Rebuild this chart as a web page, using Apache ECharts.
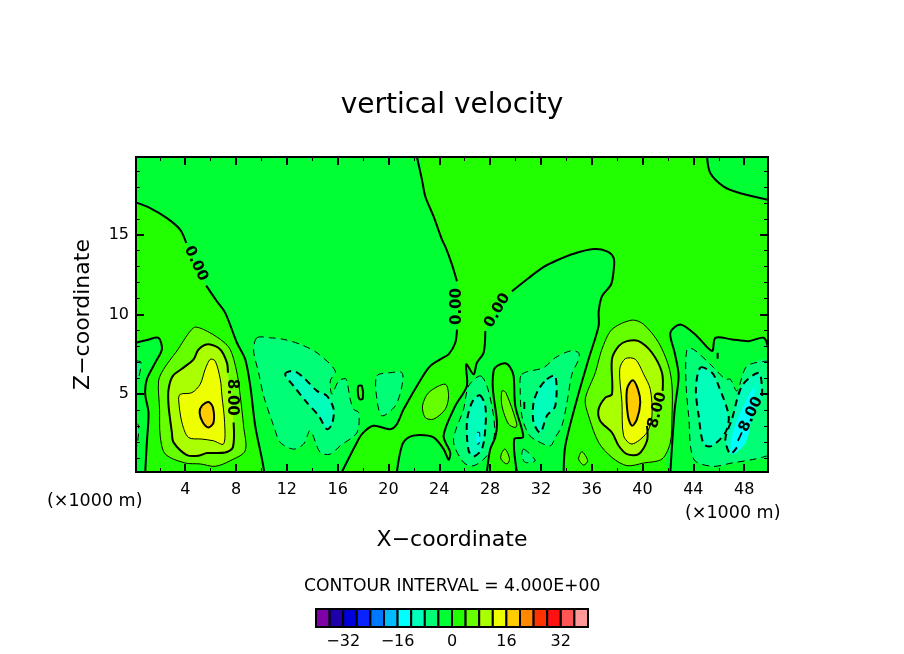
<!DOCTYPE html>
<html><head><meta charset="utf-8">
<style>html,body{margin:0;padding:0;background:#fff}#c{width:904px;height:654px}</style>
<script src="https://cdn.jsdelivr.net/npm/echarts@6/dist/echarts.min.js"></script>
</head><body><div id="c"></div>
<script>
// ---- scale values ----
const xRange = [0.125, 49.875];
const zRange = [0.125, 19.875];
const xMajor = [4,8,12,16,20,24,28,32,36,40,44,48];
const xMinor = [2,6,10,14,18,22,26,30,34,38,42,46];
const zMajor = [5,10,15];
const zMinor = [1,2,3,4,6,7,8,9,11,12,13,14,16,17,18,19];
const bandLows = [-40,-36,-32,-28,-24,-20,-16,-12,-8,-4,0,4,8,12,16,20,24,28,32,36];
const bandColors = ['#8000a8','#1e00aa','#0000dd','#0a22ff','#0077ff','#00bbff','#00ffff','#00ffbb','#00ff77','#00ff33','#22ff00','#66ff00','#aaff00','#eeff00','#ffcc00','#ff8800','#ff3300','#ff1111','#ff5555','#ff9999'];
const barTicks = [-32,-16,0,16,32];

// ---- contour values: [x (km), z] ----
const zeroLeftA = [[0.125,17.02],[1.24,16.67],[2.56,16.04],[3.61,15.31],[4.08,14.48]];
const zeroLeftB = [[5.65,11.81],[6.49,10.83],[7.15,10.1],[8.07,8.23],[8.72,7.19],[9.12,5.52],[9.51,3.02],[10.04,0.94],[10.22,0.125]];
const zeroMidA = [[16.33,0.125],[17.38,1.77],[17.91,2.5],[18.82,3.02],[20.14,2.81],[20.66,3.13],[21.19,4.06],[22.63,6.04],[23.29,6.77],[24.07,7.19],[24.73,7.5],[25.26,8.23],[25.39,9.06]];
const zeroMidB = [[25.39,12.08],[25.0,13.13],[24.47,14.27],[24.21,14.69],[23.55,16.15],[22.9,17.4],[22.64,18.44],[22.24,19.875]];
const zeroEdge = [[0.125,8.23],[0.98,8.4],[1.9,8.54],[2.16,7.81],[1.64,6.98],[0.98,5.94],[0.85,5.0],[1.11,3.85],[0.98,1.98],[0.85,0.125]];
const zeroArch = [[20.66,0.125],[21.06,1.77],[21.58,2.29],[22.5,2.44],[23.55,2.29],[24.34,1.56],[24.73,0.9],[24.86,1.35],[24.34,2.4],[25.26,4.27],[26.17,5.52],[26.12,6.88],[26.7,6.25],[26.96,6.98],[27.49,7.6],[27.62,8.96]];
const zeroDome = [[29.72,11.46],[31.04,12.29],[32.22,12.98],[33.27,13.4],[34.58,13.81],[36.15,14.1],[37.2,13.96],[37.73,13.54],[37.73,12.81],[37.52,11.88],[36.81,11.15],[36.55,10.21],[36.54,9.27],[35.75,7.19],[34.84,4.69],[33.92,1.77],[33.79,0.125]];
const zeroTower = [[30.11,0.125],[29.9,2.19],[30.58,2.29],[30.5,2.81],[29.98,4.27],[29.85,6.15],[29.59,6.67],[29.19,6.94],[28.54,6.77],[28.27,6.46],[28.22,5.31],[28.54,3.23],[28.4,2.29],[28.01,1.56],[27.75,0.125]];
const zeroRight = [[42.19,0.125],[42.53,4.06],[42.84,6.15],[42.53,7.6],[42.19,8.85],[42.97,9.38],[44.15,8.75],[45.47,7.71],[45.73,8.54],[47.04,8.44],[48.35,8.33],[49.53,8.54],[49.875,7.92]];
const zeroCorner = [[45.08,19.875],[45.34,18.85],[46.39,18.02],[47.7,17.6],[49.875,17.19]];
const zeroIsland = [[17.64,5.52],[17.91,5.52],[17.98,4.73],[17.72,4.69],[17.59,5.1]];
const zeroCusp = [[45.91,7.6],[45.91,7.23]];

const hillA4 = [[4.66,9.17],[5.44,9.06],[6.76,8.44],[7.54,7.81],[8.07,6.35],[8.33,4.9],[8.59,3.02],[8.72,1.46],[7.54,0.83],[6.36,0.48],[5.18,0.63],[4.0,0.69],[2.43,1.25],[2.03,2.4],[1.98,4.06],[1.9,5.83],[2.29,6.56],[3.34,7.71]];
const hillA8 = [[7.81,3.23],[7.75,1.67],[7.15,1.35],[5.71,1.31],[5.05,1.15],[4.13,1.19],[3.08,1.98],[2.95,2.6],[2.69,4.27],[2.69,5.31],[3.03,6.15],[3.87,6.67],[4.66,7.19],[5.05,7.81],[5.84,8.13],[6.76,7.81],[7.28,6.98],[7.36,6.35]];
const hillA12 = [[5.97,7.19],[6.36,7.08],[6.76,5.94],[6.89,4.9],[7.1,3.23],[7.02,1.88],[6.23,2.08],[5.31,2.19],[4.26,2.29],[3.74,3.23],[3.48,4.69],[3.61,5.0],[4.53,5.1],[5.18,5.63],[5.57,6.56]];
const hillA16 = [[5.84,4.52],[6.18,4.17],[6.23,3.23],[5.84,2.92],[5.39,3.23],[5.13,3.85],[5.31,4.27]];
const hillB4 = [[39.17,9.65],[40.09,9.38],[41.27,8.23],[42.05,6.77],[42.32,5.52],[42.32,3.65],[42.19,1.98],[41.53,0.94],[40.09,0.69],[38.77,0.52],[37.59,1.04],[36.54,1.98],[35.75,3.65],[35.49,4.69],[36.28,6.35],[36.8,7.81],[37.59,9.06]];
const hillB8 = [[40.35,3.02],[40.35,2.08],[39.69,1.25],[38.77,1.25],[38.12,1.77],[37.59,2.6],[36.67,3.33],[36.54,4.06],[37.07,4.79],[37.59,5.0],[37.59,7.19],[38.12,8.02],[38.77,8.33],[39.69,8.33],[40.74,7.6],[41.53,6.35],[41.58,5.21]];
const hillB12 = [[38.64,7.23],[39.43,7.19],[40.09,6.25],[40.61,5.31],[40.74,3.65],[40.35,2.6],[39.17,1.88],[38.51,2.4],[38.38,4.48],[38.2,6.56]];
const hillB16 = [[39.22,5.88],[39.64,5.31],[39.82,4.48],[39.56,3.44],[39.17,3.02],[38.85,3.65],[38.77,5.31]];
const ovalMid = [[24.47,5.63],[24.73,4.9],[24.47,4.06],[23.55,3.44],[22.89,3.54],[22.68,4.27],[23.16,5.1]];
const ovalTowerA = [[28.93,5.21],[29.24,5.1],[30.11,3.13],[29.98,2.92],[29.45,3.13],[28.93,4.27]];
const ovalTowerB = [[29.19,1.56],[29.53,0.94],[29.32,0.63],[28.85,0.94],[28.93,1.35]];
const ovalFoot = [[35.23,1.4],[35.68,0.83],[35.36,0.56],[34.97,0.94]];

const trough1m4 = [[9.64,8.54],[10.69,8.54],[11.74,8.44],[13.06,8.13],[14.37,7.6],[15.81,6.46],[15.42,5.83],[15.55,5.0],[16.07,5.83],[16.6,5.98],[16.73,5.83],[16.99,4.69],[17.25,4.06],[17.65,3.85],[17.52,2.6],[16.2,1.77],[15.42,1.25],[14.63,1.35],[13.84,2.71],[13.32,1.88],[12.53,1.56],[11.48,1.98],[10.96,3.02],[10.17,4.9],[9.78,6.35],[9.39,7.71]];
const trough1m8 = [[11.87,6.25],[12.53,6.46],[13.32,6.04],[14.37,5.21],[15.15,4.9],[15.68,4.06],[15.55,3.13],[15.15,2.81],[14.5,3.65],[13.58,4.48],[12.53,5.52]];
const trough2m4 = [[19.09,6.15],[20.14,6.35],[21.06,6.35],[21.06,5.52],[20.53,4.27],[19.48,3.65],[19.09,4.69]];
const trough3m4 = [[27.22,6.15],[27.75,5.52],[28.27,3.65],[28.33,2.4],[27.75,1.15],[26.7,0.52],[25.91,0.73],[25.12,2.08],[25.91,4.06],[26.31,5.52]];
const trough3m8 = [[27.17,4.94],[27.62,4.27],[27.62,2.81],[27.35,1.56],[26.7,1.1],[26.31,1.46],[26.17,3.23],[26.57,4.48]];
const trough3m12 = [[26.96,2.6],[27.17,2.6],[27.12,1.88],[26.96,1.88]];
const trough4m4 = [[30.5,6.25],[32.21,6.67],[33.13,7.29],[34.31,7.71],[34.97,7.6],[34.97,7.19],[34.44,6.25],[34.05,4.48],[33.65,3.02],[33.13,2.29],[32.74,1.77],[31.69,2.08],[31.03,2.5],[30.5,3.65],[30.37,5.31]];
const trough4small = [[30.64,1.56],[31.55,0.83],[30.77,0.73],[30.5,1.15]];
const trough4m8 = [[32.47,5.94],[33.13,6.15],[33.13,4.27],[32.47,3.65],[31.95,2.6],[31.42,3.23],[31.42,4.48],[31.82,5.31]];
const trough4dash = [[30.69,4.52],[30.69,3.85]];
const trough5m4 = [[49.875,1.15],[48.88,0.94],[47.04,0.69],[45.47,0.48],[44.02,0.94],[43.63,3.65],[43.42,5.73],[43.5,7.81],[44.02,7.81],[45.47,6.77],[46.52,5.94],[46.91,5.94],[47.43,5.21],[48.22,6.77],[49.875,7.08]];
const trough5m8a = [[44.55,6.67],[45.47,6.35],[45.99,5.52],[46.78,3.65],[46.52,2.6],[45.47,1.77],[44.81,1.88],[44.42,3.65],[44.2,5.31]];
const trough5m8b = [[47.43,1.67],[46.91,1.25],[46.52,2.19],[47.04,3.44],[47.83,5.52],[49.14,6.35],[49.4,5.52],[49.4,4.79]];
const trough5m12 = [[48.79,5.42],[48.65,4.06],[48.13,1.98],[47.04,1.25],[47.04,2.4],[47.83,4.06]];
const edgeTopM4 = [[0.125,7.08],[0.51,7.02],[0.33,6.04],[0.125,5.94]];
const edgeLowM4 = [[0.125,3.23],[0.33,3.02],[0.25,1.98],[0.125,1.56]];

const contourLabels = [
  [4.84,13.19,'0.00',-65],[25.42,10.5,'0.00',90],[28.57,10.25,'0.00',60],
  [7.7,4.81,'8.00',-90],[41.17,4.0,'8.00',75],[48.33,3.38,'\u22128.00',65]
];

// ---- tables built from the arrays above ----
const [x0,x1] = xRange, [z0,z1] = zRange;
// [band low value, polygon]; painted in order
const fills = [
  [0,[[x0,z0],[x1,z0],[x1,z1],[x0,z1]]],
  [-4,[...zeroLeftA,...zeroLeftB,...zeroMidA,...zeroMidB,[x0,z1]]],
  [-4,[...zeroEdge,[x0,z0]]],
  [-4,[...zeroArch,...zeroDome,...zeroTower]],
  [-4,[...zeroRight,[x1,z0]]],
  [-4,[...zeroCorner,[x1,z1]]],
  [0,zeroIsland],
  [4,hillA4],[8,hillA8],[12,hillA12],[16,hillA16],
  [4,hillB4],[8,hillB8],[12,hillB12],[16,hillB16],
  [4,ovalMid],[4,ovalTowerA],[4,ovalTowerB],[4,ovalFoot],
  [-8,trough1m4],[-12,trough1m8],[-8,trough2m4],
  [-8,trough3m4],[-12,trough3m8],[-16,trough3m12],
  [-8,trough4m4],[-8,trough4small],[-12,trough4m8],
  [-8,trough5m4],[-12,trough5m8a],[-12,trough5m8b],[-16,trough5m12],
  [-8,edgeTopM4],[-8,edgeLowM4]
];
// [contour value, path, closed]
const contours = [
  [0,zeroLeftA,0],[0,zeroLeftB,0],[0,zeroMidA,0],[0,zeroMidB,0],[0,zeroEdge,0],[0,zeroArch,0],[0,zeroDome,0],[0,zeroTower,0],[0,zeroRight,0],[0,zeroCorner,0],[0,zeroIsland,1],[0,zeroCusp,0],
  [4,hillA4,1],[8,hillA8,0],[12,hillA12,1],[16,hillA16,1],
  [4,hillB4,1],[8,hillB8,0],[12,hillB12,1],[16,hillB16,1],
  [4,ovalMid,1],[4,ovalTowerA,1],[4,ovalTowerB,1],[4,ovalFoot,1],
  [-4,trough1m4,1],[-8,trough1m8,1],[-4,trough2m4,1],
  [-4,trough3m4,1],[-8,trough3m8,1],[-12,trough3m12,0],
  [-4,trough4m4,1],[-4,trough4small,1],[-8,trough4m8,1],[-8,trough4dash,0],
  [-4,trough5m4,0],[-8,trough5m8a,1],[-8,trough5m8b,0],
  [-4,edgeTopM4,0],[-4,edgeLowM4,0]
];
const colorOf = low => bandColors[bandLows.indexOf(low)];
const FONT = '"DejaVu Sans"';
const SMOOTH = 0.3;
const tickAxis = (values, len, w, extra) => Object.assign({
  type:'value', z:10, gridIndex:0,
  axisLine:{show:true,onZero:false,lineStyle:{color:'#000',width:2}},
  splitLine:{show:false},
  axisTick:{show:true,inside:true,length:len,customValues:values,lineStyle:{color:'#000',width:w}},
  axisLabel:{show:false}
}, extra);
const xx = {min:x0,max:x1}, zz = {min:z0,max:z1};

const chart = echarts.init(document.getElementById('c'),null,{renderer:'canvas'});
chart.setOption({
  animation:false,
  backgroundColor:'#fff',
  title:{text:'vertical velocity',left:447,top:87,textAlign:'center',
    textStyle:{fontFamily:FONT,fontSize:28,fontWeight:'normal',color:'#000'}},
  grid:[
    {left:136,top:157,width:632,height:315,show:false},
    {left:316,top:609,width:272,height:18,show:false}
  ],
  xAxis:[
    tickAxis(xMajor,8,2,Object.assign({position:'bottom',name:'X\u2212coordinate',nameLocation:'middle',nameGap:57,
      nameTextStyle:{fontFamily:FONT,fontSize:22,color:'#000'},
      axisLabel:{show:true,customValues:xMajor,margin:10,fontFamily:FONT,fontSize:16,color:'#000',hideOverlap:false}},xx)),
    tickAxis(xMinor,4,1,Object.assign({position:'bottom'},xx)),
    tickAxis(xMajor,8,2,Object.assign({position:'top'},xx)),
    tickAxis(xMinor,4,1,Object.assign({position:'top'},xx)),
    {type:'value',gridIndex:1,min:-40,max:40,position:'bottom',z:10,
      axisLine:{show:false},axisTick:{show:false},splitLine:{show:false},
      axisLabel:{show:true,customValues:barTicks,margin:7,fontFamily:FONT,fontSize:16,color:'#000',
        formatter:v=>String(v).replace('-','\u2212')}}
  ],
  yAxis:[
    tickAxis(zMajor,8,2,Object.assign({position:'left',name:'Z\u2212coordinate',nameLocation:'middle',nameGap:42,
      nameTextStyle:{fontFamily:FONT,fontSize:22,color:'#000'},
      axisLabel:{show:true,customValues:zMajor,margin:7,padding:[3,0,0,0],fontFamily:FONT,fontSize:16,color:'#000',hideOverlap:false}},zz)),
    tickAxis(zMinor,4,1,Object.assign({position:'left'},zz)),
    tickAxis(zMajor,8,2,Object.assign({position:'right'},zz)),
    tickAxis(zMinor,4,1,Object.assign({position:'right'},zz)),
    {type:'value',gridIndex:1,min:0,max:1,show:false}
  ],
  graphic:[
    {type:'text',left:47,top:492,style:{text:'(\u00d71000 m)',font:'17.5px '+FONT,fill:'#000'}},
    {type:'text',left:685,top:504,style:{text:'(\u00d71000 m)',font:'17.5px '+FONT,fill:'#000'}},
    {type:'text',left:304,top:578,style:{text:'CONTOUR INTERVAL = 4.000E+00',font:'17.2px '+FONT,fill:'#000'}}
  ],
  series:[
    {type:'custom',name:'fills',coordinateSystem:'cartesian2d',xAxisIndex:0,yAxisIndex:0,z:2,clip:true,silent:true,
      data:fills.map((f,i)=>[i]),encode:{x:[],y:[]},
      renderItem:(p,api)=>{const i=api.value(0),f=fills[i];
        return {type:'polygon',shape:{points:f[1].map(q=>api.coord(q)),smooth:i?SMOOTH:0},style:{fill:colorOf(f[0]),stroke:null}};}},
    {type:'custom',name:'contours',coordinateSystem:'cartesian2d',xAxisIndex:0,yAxisIndex:0,z:3,clip:true,silent:true,
      data:contours.map((f,i)=>[i]),encode:{x:[],y:[]},
      renderItem:(p,api)=>{const c=contours[api.value(0)];
        const thick=c[0]%8===0;
        return {type:c[2]?'polygon':'polyline',shape:{points:c[1].map(q=>api.coord(q)),smooth:SMOOTH},
          style:{fill:null,stroke:'#000',lineWidth:thick?2:1,lineDash:c[0]<0?[7,5]:null}};}},
    {type:'custom',name:'labels',coordinateSystem:'cartesian2d',xAxisIndex:0,yAxisIndex:0,z:4,clip:false,silent:true,
      data:contourLabels.map((f,i)=>[i]),encode:{x:[],y:[]},
      renderItem:(p,api)=>{const l=contourLabels[api.value(0)],c=api.coord([l[0],l[1]]);
        return {type:'text',x:c[0],y:c[1],rotation:l[3]*Math.PI/180,
          style:{text:l[2],font:'bold 15px '+FONT,fill:'#000',align:'center',verticalAlign:'middle'}};}},
    {type:'custom',name:'colorbar',coordinateSystem:'cartesian2d',xAxisIndex:4,yAxisIndex:4,z:3,silent:true,
      data:bandLows.map(v=>[v]),encode:{x:[],y:[]},
      renderItem:(p,api)=>{const v=api.value(0),a=api.coord([v,0]),b=api.coord([v+4,1]);
        return {type:'rect',shape:{x:a[0],y:b[1],width:b[0]-a[0],height:a[1]-b[1]},
          style:{fill:colorOf(v),stroke:'#000',lineWidth:2}};}}
  ]
});
</script></body></html>
